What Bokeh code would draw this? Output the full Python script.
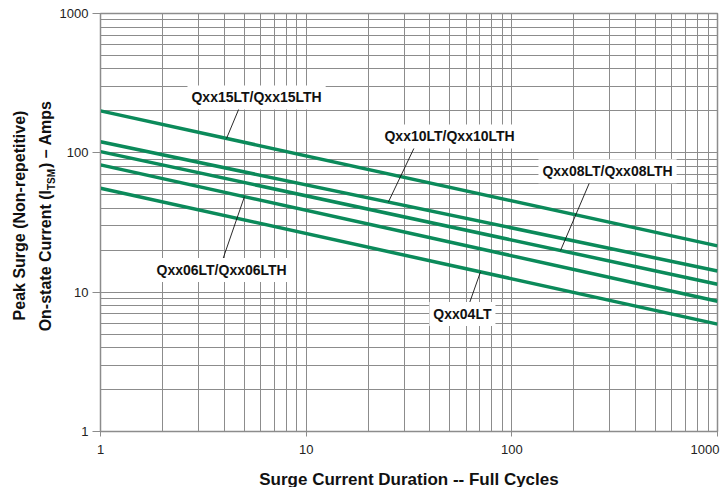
import math
from bokeh.plotting import figure
from bokeh.layouts import row
from bokeh.models import Range1d, FixedTicker, NumeralTickFormatter, Label
from bokeh.embed import file_html
from bokeh.resources import INLINE

# ---------------- data ----------------
cycles = [1, 1000]
qxx15 = [200, 21.5]
qxx10 = [120, 14.2]
qxx08 = [102, 11.4]
qxx06 = [82, 8.6]
qxx04 = [55.7, 5.9]
series = [qxx15, qxx10, qxx08, qxx06, qxx04]
series_names = ["Qxx15LT/Qxx15LTH", "Qxx10LT/Qxx10LTH", "Qxx08LT/Qxx08LTH",
                "Qxx06LT/Qxx06LTH", "Qxx04LT"]
major_ticks = [1, 10, 100, 1000]
tick_labels = ["1", "10", "100", "1000"]
minor_ticks = [m * d for d in (1, 10, 100) for m in range(2, 10)]
x_title = "Surge Current Duration -- Full Cycles"
y_title_1 = "Peak Surge (Non-repetitive)"
y_title_2 = ["On-state Current (I", "TSM", ") \u2013 Amps"]

# label placement (data coords): label center, leader start, x where leader meets line
label_pos = [
    (5.74, 250, 4.74, 212, 4.1),
    (49.8, 131, 33.6, 109.5, 25.1),
    (292, 73.7, 239, 61.5, 172.5),
    (3.88, 14.4, 3.92, 16.96, 5.01),
    (57.5, 6.96, 62.2, 8.34, 70.4),
]

GREEN = "#0b8a5a"
GRID = "#8c8c8c"
FONT = "Liberation Sans"
H = 485
LW = 56

# ---------------- main chart ----------------
p = figure(width=727 - LW, height=H, frame_width=617, frame_height=418,
           x_axis_type="log", y_axis_type="log",
           x_range=Range1d(1, 1000), y_range=Range1d(1, 1000),
           output_backend="svg", toolbar_location=None,
           min_border_left=99 - LW, min_border_right=727 - LW - (99 - LW) - 617,
           min_border_top=13, min_border_bottom=H - 13 - 418)
p.frame_align = False
p.background_fill_color = "white"
p.border_fill_color = "white"
p.outline_line_color = GRID
p.outline_line_width = 1.5

for ax in (p.xaxis[0], p.yaxis[0]):
    ax.ticker = FixedTicker(ticks=major_ticks, minor_ticks=minor_ticks)
    ax.formatter = NumeralTickFormatter(format="0")
    ax.major_label_overrides = {t: s for t, s in zip(major_ticks, tick_labels)}
    ax.axis_line_color = GRID
    ax.major_tick_line_color = GRID
    ax.minor_tick_line_color = None
    ax.major_tick_in = 0
    ax.major_label_text_font = FONT
    ax.major_label_text_font_size = "13px"
    ax.major_label_text_color = "#222222"
# last x label sits at the window edge: nudge it left with trailing spacing
p.xaxis.major_label_overrides = {**{t: s for t, s in zip(major_ticks, tick_labels)},
                                 major_ticks[-1]: tick_labels[-1] + "\u2002\u2009"}
p.yaxis.major_tick_out = 8
p.yaxis.major_label_standoff = 4
p.xaxis.major_tick_out = 5
p.xaxis.major_label_standoff = 5
p.xaxis.axis_label = x_title
p.xaxis.axis_label_text_font = FONT
p.xaxis.axis_label_text_font_style = "bold"
p.xaxis.axis_label_text_font_size = "17px"
p.xaxis.axis_label_text_color = "#111111"
p.xaxis.axis_label_standoff = 10

for g in (p.xgrid[0], p.ygrid[0]):
    g.grid_line_color = GRID
    g.grid_line_width = 1
    g.minor_grid_line_color = GRID
    g.minor_grid_line_width = 1

for ys in series:
    p.line(cycles, ys, line_color=GREEN, line_width=3.5)

def on_line(ys, x):
    k = math.log10(ys[1] / ys[0]) / math.log10(cycles[1] / cycles[0])
    return ys[0] * (x / cycles[0]) ** k

for ys, name, (lx, ly, sx0, sy0, xon) in zip(series, series_names, label_pos):
    p.segment(x0=[sx0], y0=[sy0], x1=[xon], y1=[on_line(ys, xon)],
              line_color="#111111", line_width=0.9)
    p.add_layout(Label(x=lx, y=ly, text=name, text_align="center", text_baseline="middle",
                       text_font=FONT, text_font_style="bold", text_font_size="14px",
                       text_color="#111111", background_fill_color="white",
                       padding=4))

# ---------------- y-axis title panel ----------------
t = figure(width=LW, height=H, x_range=Range1d(0, LW), y_range=Range1d(0, H),
           output_backend="svg", toolbar_location=None,
           x_axis_location=None, y_axis_location=None,
           min_border=0, min_border_left=0, min_border_right=0,
           min_border_top=0, min_border_bottom=0)
t.frame_align = False
t.outline_line_color = None
t.grid.visible = False
t.background_fill_color = "white"
t.border_fill_color = "white"

def py(page_y):
    return H - page_y

TITLE = dict(text_font=FONT, text_font_style="bold", text_color="#111111",
             x_units="screen", y_units="screen", angle=math.pi / 2, text_baseline="middle")

t.add_layout(Label(x=19, y=py(215), text=y_title_1, text_align="center",
                   text_font_size="16px", **TITLE))

w1, w2, w3 = 141, 21, 68
bottom = 215.5 + (w1 + w2 + w3) / 2
t.add_layout(Label(x=45, y=py(bottom - w1), text=y_title_2[0], text_align="right",
                   text_font_size="16px", **TITLE))
t.add_layout(Label(x=51, y=py(bottom - w1), text=y_title_2[1], text_align="left",
                   text_font_size="10px", **TITLE))
t.add_layout(Label(x=45, y=py(bottom - w1 - w2 - 1), text=y_title_2[2], text_align="left",
                   text_font_size="16px", **TITLE))

layout = row(t, p)
open("out.html", "w").write(file_html(layout, INLINE))
